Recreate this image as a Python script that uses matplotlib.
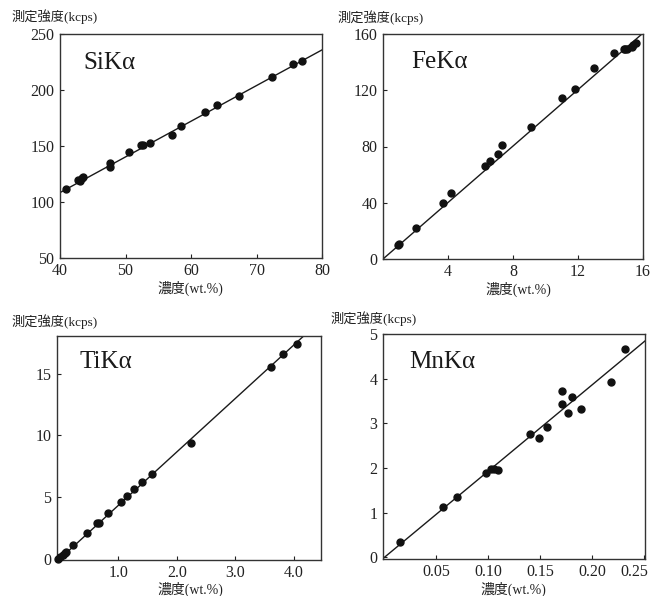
import matplotlib
matplotlib.use("Agg")
import matplotlib.pyplot as plt
import matplotlib.transforms as mtransforms
import numpy as np

plt.rcParams['font.family'] = ['Liberation Serif', 'Noto Sans CJK JP', 'DejaVu Sans']

# ---------------- data ----------------
si_x = [40.9, 42.7, 43.0, 43.3, 43.5, 47.7, 47.7, 50.6, 52.4, 52.7, 53.7, 57.1, 58.5, 62.2, 63.9, 67.3, 72.4, 75.6, 77.0]
si_y = [112, 120, 119, 121, 122, 135, 131, 145, 151, 151, 153, 160, 168, 180, 187, 195, 212, 223, 226]
si_line = [108.4, 3.185]  # intercept at x=40, slope

fe_x = [0.9, 1.0, 2.0, 3.7, 4.2, 6.3, 6.6, 7.1, 7.35, 9.1, 11.0, 11.8, 13.0, 14.2, 14.8, 14.9, 15.0, 15.3, 15.4, 15.55]
fe_y = [10.2, 10.8, 21.7, 40.0, 47.1, 66.2, 69.8, 74.5, 81.0, 93.6, 114.3, 121.0, 135.7, 146.4, 149.5, 149.5, 149.5, 150.7, 152.4, 153.8]
fe_line = [0.0, 10.04]

ti_x = [-0.03, 0.0, 0.05, 0.09, 0.10, 0.22, 0.46, 0.63, 0.67, 0.83, 1.04, 1.15, 1.26, 1.40, 1.57, 2.24, 3.62, 3.82, 4.06]
ti_y = [0.0, 0.13, 0.27, 0.45, 0.53, 1.07, 2.05, 2.85, 2.90, 3.73, 4.60, 5.07, 5.65, 6.19, 6.88, 9.41, 15.5, 16.6, 17.4]
ti_line = [-0.02, 4.33]

mn_x = [0.0145, 0.056, 0.070, 0.098, 0.103, 0.105, 0.109, 0.140, 0.149, 0.157, 0.171, 0.171, 0.177, 0.181, 0.189, 0.218, 0.232]
mn_y = [0.33, 1.13, 1.35, 1.88, 1.97, 1.97, 1.96, 2.75, 2.66, 2.92, 3.73, 3.43, 3.23, 3.60, 3.31, 3.93, 4.67]
mn_line = [0.0, 19.3]

W, H = 651, 596
fig = plt.figure(figsize=(W / 100, H / 100), dpi=100)

def px_axes(l, t, r, b):
    return fig.add_axes([l / W, 1 - b / H, (r - l) / W, (b - t) / H])

panels = [
    dict(box=(60, 34, 322, 258), x=si_x, y=si_y, line=si_line, x0=40,
         xlim=(40, 80), ylim=(50, 250), xt=[40, 50, 60, 70, 80], xl=['40', '50', '60', '70', '80'],
         yt=[50, 100, 150, 200, 250], yl=['50', '100', '150', '200', '250'],
         name='SiKα', npos=(0.088, 0.87), ylab=(11, 17), xlab=(190, 288)),
    dict(box=(383, 34, 643, 259), x=fe_x, y=fe_y, line=fe_line, x0=0,
         xlim=(0, 16), ylim=(0, 160), xt=[0, 4, 8, 12, 16], xl=['', '4', '8', '12', '16'],
         yt=[0, 40, 80, 120, 160], yl=['0', '40', '80', '120', '160'],
         name='FeKα', npos=(0.11, 0.875), ylab=(337, 18), xlab=(518, 289)),
    dict(box=(57, 336, 321, 560), x=ti_x, y=ti_y, line=ti_line, x0=0,
         xlim=(-0.05, 4.47), ylim=(-0.12, 18.05), xt=[1, 2, 3, 4], xl=['1.0', '2.0', '3.0', '4.0'],
         yt=[0, 5, 10, 15], yl=['0', '5', '10', '15'],
         name='TiKα', npos=(0.087, 0.885), ylab=(12, 322), xlab=(190, 589)),
    dict(box=(383, 334, 645, 559), x=mn_x, y=mn_y, line=mn_line, x0=0,
         xlim=(-0.0015, 0.251), ylim=(-0.04, 5.0), xt=[0.05, 0.10, 0.15, 0.20, 0.25],
         xl=['0.05', '0.10', '0.15', '0.20', '0.25'],
         yt=[0, 1, 2, 3, 4, 5], yl=['0', '1', '2', '3', '4', '5'],
         name='MnKα', npos=(0.10, 0.877), ylab=(331, 319), xlab=(513, 589)),
]

axes = []
for p in panels:
    ax = px_axes(*p['box'])
    axes.append(ax)
    ax.set_xlim(*p['xlim'])
    ax.set_ylim(*p['ylim'])
    xs = np.array(ax.get_xlim())
    b, m = p['line']
    ax.plot(xs, b + m * (xs - p['x0']), color='#1a1a1a', lw=1.0, zorder=2, clip_on=True)
    ax.plot(p['x'], p['y'], 'o', color='#111111', ms=5.0, zorder=3, clip_on=False)
    ax.set_xticks(p['xt'])
    ax.set_xticklabels(p['xl'])
    ax.set_yticks(p['yt'])
    ax.set_yticklabels(p['yl'])
    ax.tick_params(direction='in', length=3, width=0.8, labelsize=11.5, colors='#222222', pad=4)
    ax.tick_params(axis='x', pad=3.5)
    for s in ax.spines.values():
        s.set_linewidth(1.0)
        s.set_color('#333333')
    ax.text(p['npos'][0], p['npos'][1], p['name'], transform=ax.transAxes, fontsize=18,
            va='center', ha='left', color='#1a1a1a')
    fig.text(p['ylab'][0] / W, 1 - p['ylab'][1] / H, '測定強度(kcps)', fontsize=9.5,
             ha='left', va='center', color='#222222')
    fig.text(p['xlab'][0] / W, 1 - p['xlab'][1] / H, '濃度(wt.%)', fontsize=10,
             ha='center', va='center', color='#222222')

# keep the last MnKα tick label inside the figure
last = axes[3].get_xticklabels()[-1]
last.set_transform(last.get_transform() + mtransforms.ScaledTranslation(-10 / 100, 0, fig.dpi_scale_trans))

fig.savefig('out.png', dpi=100, facecolor='white')
